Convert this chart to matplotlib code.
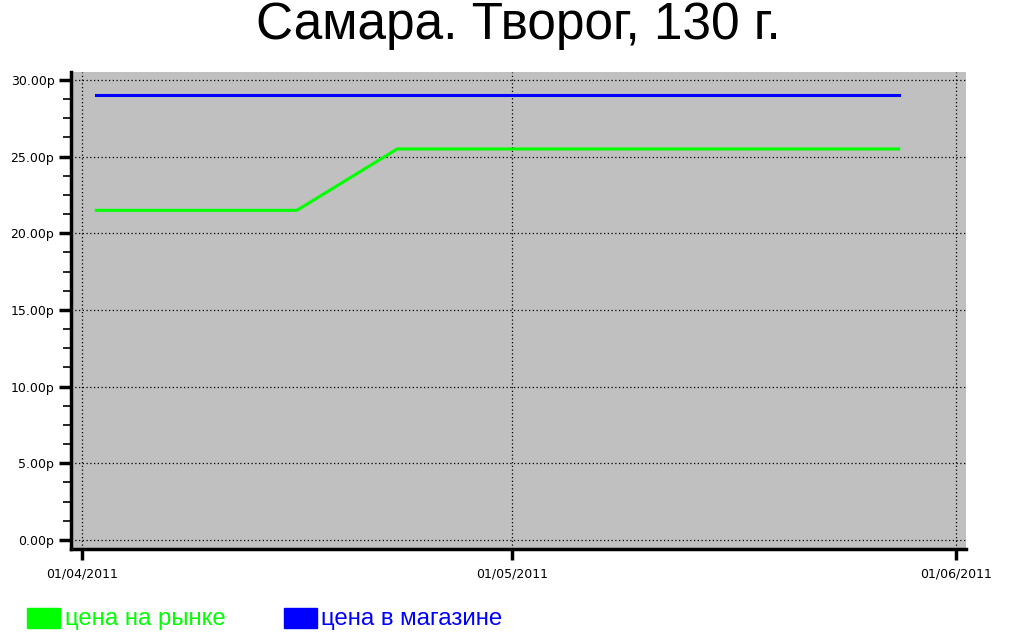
import matplotlib
matplotlib.use("Agg")
import matplotlib.pyplot as plt
import matplotlib.dates as mdates
from matplotlib.ticker import MultipleLocator, FuncFormatter
from matplotlib.patches import Rectangle
import numpy as np

# data
market_dates = ["2011-04-02", "2011-04-16", "2011-04-23", "2011-05-28"]
market_price = [21.5, 21.5, 25.5, 25.5]
shop_dates = ["2011-04-02", "2011-05-28"]
shop_price = [29.0, 29.0]
x_ticks = ["2011-04-01", "2011-05-01", "2011-06-01"]

title = "Самара. Творог, 130 г."
label_market = "цена на рынке"
label_shop = "цена в магазине"

GREEN = "#00ff00"
BLUE = "#0000ff"

fig = plt.figure(figsize=(10.24, 6.43), dpi=100)
ax = fig.add_axes([71 / 1024, 1 - 549 / 643, (966 - 71) / 1024, (549 - 72) / 643])
ax.set_facecolor("#c0c0c0")

md = np.array(market_dates, dtype="datetime64[D]")
sd = np.array(shop_dates, dtype="datetime64[D]")
xt = np.array(x_ticks, dtype="datetime64[D]")

ax.plot(md, market_price, color=GREEN, lw=2.2, zorder=3)
ax.plot(sd, shop_price, color=BLUE, lw=2.2, zorder=3)

ax.set_xlim(mdates.date2num(xt[0]) - 0.77, mdates.date2num(xt[-1]) + 0.7)
ax.set_ylim(-0.59, 30.52)

ax.set_xticks(xt)
ax.xaxis.set_major_formatter(mdates.DateFormatter("%d/%m/%Y"))
ax.yaxis.set_major_locator(MultipleLocator(5))
ax.yaxis.set_minor_locator(MultipleLocator(1.25))
ax.yaxis.set_major_formatter(FuncFormatter(lambda v, p: "%.2fр" % v))

ax.grid(True, which="major", color="black", linestyle=(0, (1, 2)), lw=0.9)

for s in ["top", "right"]:
    ax.spines[s].set_visible(False)
for s in ["left", "bottom"]:
    ax.spines[s].set_linewidth(2.5)

ax.tick_params(axis="y", which="major", length=9, width=2.5, labelsize=9, pad=3)
ax.tick_params(axis="y", which="minor", length=6, width=1.2)
ax.tick_params(axis="x", which="major", length=8, width=2.5, labelsize=9, pad=5)
for lab in ax.get_xticklabels() + ax.get_yticklabels():
    lab.set_family("DejaVu Sans")

fig.text(0.5 + 6 / 1024, 1 - 25 / 643, title, ha="center", va="center",
         fontsize=37, family="Liberation Sans")

# legend
fig.patches.append(Rectangle((27 / 1024, 1 - 628 / 643), 33 / 1024, 20 / 643,
                             transform=fig.transFigure, color=GREEN))
fig.text(65 / 1024, 1 - 619 / 643, label_market, color=GREEN, fontsize=17.3,
         va="center", family="Liberation Sans")
fig.patches.append(Rectangle((284 / 1024, 1 - 628 / 643), 33 / 1024, 20 / 643,
                             transform=fig.transFigure, color=BLUE))
fig.text(321 / 1024, 1 - 619 / 643, label_shop, color=BLUE, fontsize=17.3,
         va="center", family="Liberation Sans")

fig.savefig("out.png", dpi=100)
